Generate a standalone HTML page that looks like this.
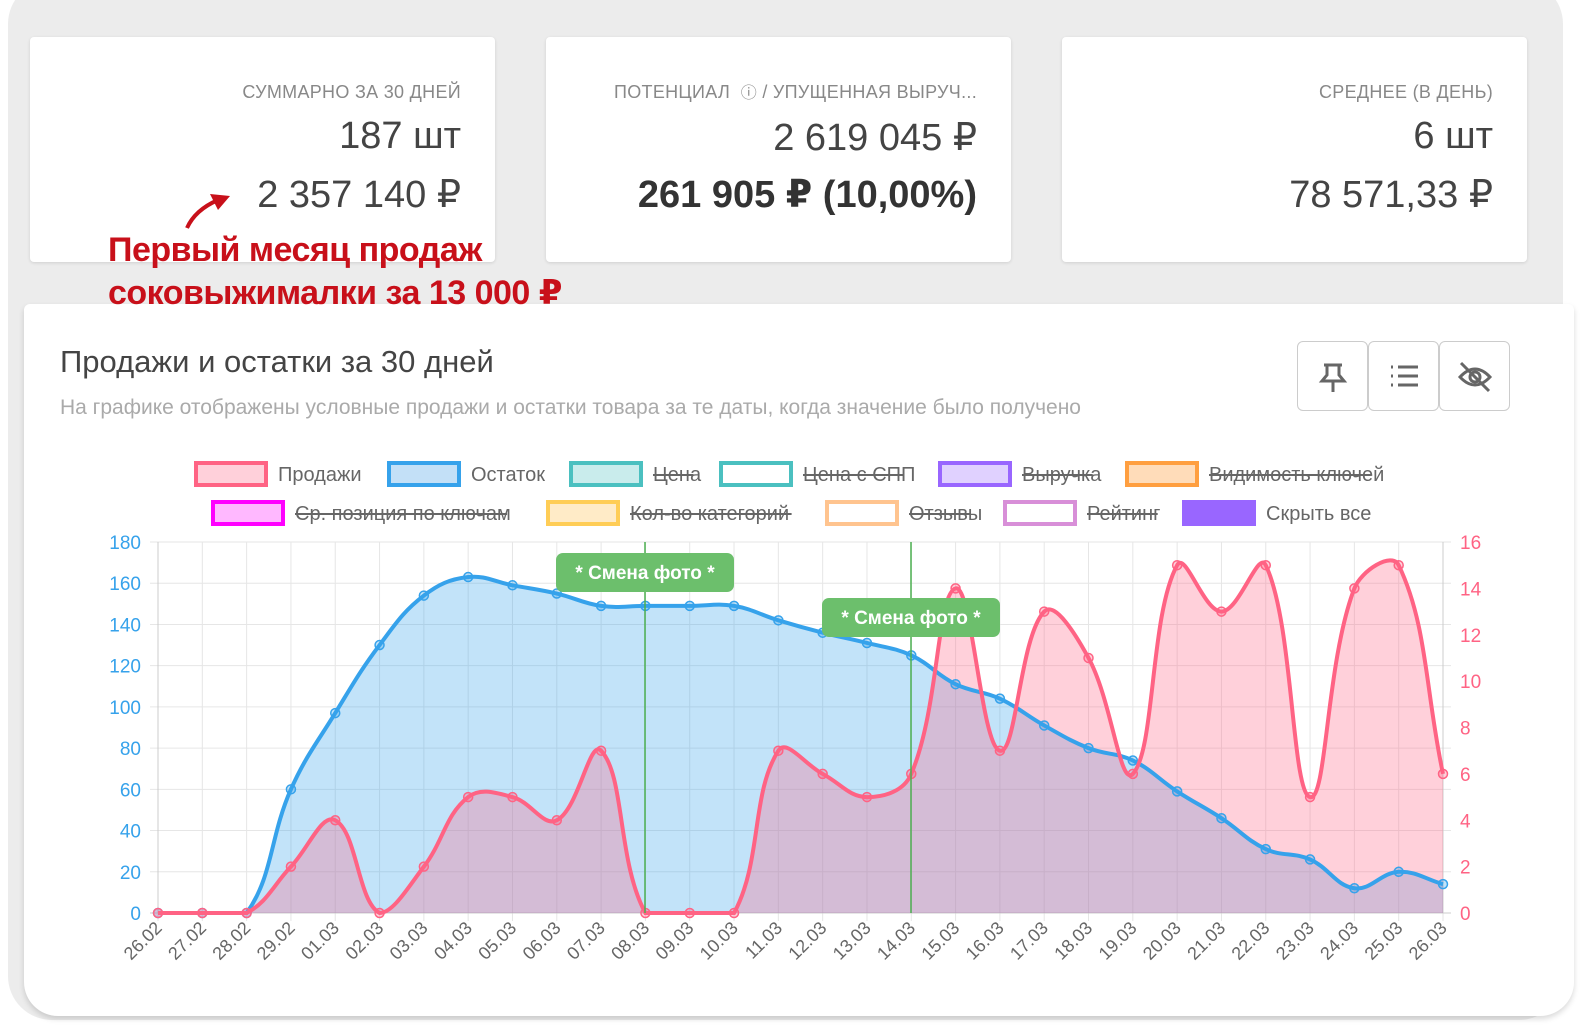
<!DOCTYPE html>
<html><head><meta charset="utf-8">
<style>
*{margin:0;padding:0;box-sizing:border-box}
body{width:1588px;height:1036px;background:#fff;font-family:"Liberation Sans","DejaVu Sans",sans-serif;position:relative;overflow:hidden}
.outer{position:absolute;left:8px;top:-20px;width:1555px;height:1040px;background:#ececec;border-radius:44px}
.card{position:absolute;top:37px;height:225px;width:465px;background:#fff;border-radius:4px;box-shadow:0 1px 3px rgba(0,0,0,.12);text-align:right;color:#444}
.card .t{position:absolute;right:34px;top:45px;font-size:18px;line-height:20px;height:20px;color:#888;letter-spacing:.3px;white-space:nowrap}
.card .a{position:absolute;right:34px;top:78px;font-size:38px;color:#444;white-space:nowrap}
.card .b{position:absolute;right:34px;top:135px;font-size:38px;color:#444;white-space:nowrap}
.panel{position:absolute;left:24px;top:304px;width:1550px;height:712px;background:#fff;border-radius:6px 6px 34px 34px;box-shadow:0 3px 6px rgba(0,0,0,.15)}
.red{position:absolute;left:108px;color:#c8101a;font-weight:bold;font-size:34px;letter-spacing:-.5px;white-space:nowrap}
.btn{position:absolute;top:341px;width:71px;height:70px;border:1px solid #ccc;border-radius:6px;background:#fff}
</style></head><body>
<div class="outer"></div>
<div class="card" style="left:30px"><div class="t">СУММАРНО ЗА 30 ДНЕЙ</div><div class="a">187 шт</div><div class="b">2 357 140 ₽</div></div>
<div class="card" style="left:546px"><div class="t">ПОТЕНЦИАЛ &nbsp;<span style="font-family:'DejaVu Sans';font-size:16px">ⓘ</span> / УПУЩЕННАЯ ВЫРУЧ...</div><div class="a">2 619 045 ₽</div><div class="b" style="font-weight:bold;color:#333">261 905 ₽ (10,00%)</div></div>
<div class="card" style="left:1062px"><div class="t">СРЕДНЕЕ (В ДЕНЬ)</div><div class="a">6 шт</div><div class="b">78 571,33 ₽</div></div>
<div class="panel"></div>
<svg style="position:absolute;left:180px;top:190px" width="60" height="45"><path d="M7 38 Q15 20 38 10" stroke="#c8101a" stroke-width="4" fill="none"/><path d="M30 4 L50 6 L38 20 Z" fill="#c8101a"/></svg>
<div class="red" style="top:231px">Первый месяц продаж</div>
<div class="red" style="top:273px">соковыжималки за 13 000 ₽</div>
<div style="position:absolute;left:60px;top:344px;font-size:31px;color:#444">Продажи и остатки за 30 дней</div>
<div style="position:absolute;left:60px;top:396px;font-size:21px;color:#aaa">На графике отображены условные продажи и остатки товара за те даты, когда значение было получено</div>
<div class="btn" style="left:1297px"><svg width="71" height="70"><g stroke="#666" stroke-width="3" fill="none"><path d="M26 23h18M29 23v10l-5 6h22l-5-6V23M35 39v11"/></g></svg></div>
<div class="btn" style="left:1368px"><svg width="71" height="70"><g stroke="#666" stroke-width="3"><path d="M29 25h20M29 34h20M29 43h20M22 25h2M22 34h2M22 43h2"/></g></svg></div>
<div class="btn" style="left:1439px"><svg width="71" height="70"><g stroke="#666" stroke-width="3" fill="none"><path d="M20 35q15-16 30 0q-15 16-30 0z"/><circle cx="35" cy="35" r="5"/><path d="M21 21l28 28"/></g></svg></div>
<svg id="ch" style="position:absolute;left:0;top:0" width="1588" height="1036"></svg>
<script>
const S=[0,0,0,60,97,130,154,163,159,155,149,149,149,149,142,136,131,125,111,104,91,80,74,59,46,31,26,12,20,14];
const P=[0,0,0,2,4,0,2,5,5,4,7,0,0,0,7,6,5,6,14,7,13,11,6,15,13,15,5,14,15,6];
const L=["26.02","27.02","28.02","29.02"];for(let i=1;i<=26;i++)L.push((i<10?"0":"")+i+".03");
const x0=158,x1=1443,yb=913,yt=542,dx=(x1-x0)/29;
let h='';
for(let v=0;v<=180;v+=20){const y=yb-(v/180)*(yb-yt);h+=`<line x1="150" x2="1451" y1="${y}" y2="${y}" stroke="#e6e6e6"/>`;
h+=`<text x="141" y="${y+7}" text-anchor="end" font-size="19" fill="#36a2eb">${v}</text>`;}
for(let v=0;v<=16;v+=2){const y=yb-(v/16)*(yb-yt);h+=`<text x="1460" y="${y+7}" font-size="19" fill="#ff6384">${v}</text>`;}
for(let i=0;i<30;i++){const x=x0+i*dx;h+=`<line x1="${x}" x2="${x}" y1="${yt}" y2="${yb+8}" stroke="#e6e6e6"/>`;
h+=`<text transform="translate(${x+5},${yb+16}) rotate(-45)" text-anchor="end" font-size="18" fill="#666">${L[i]}</text>`;}
h+=`<line x1="158" x2="158" y1="${yt}" y2="${yb}" stroke="#ccc"/><line x1="1443" x2="1443" y1="${yt}" y2="${yb}" stroke="#ccc"/><line x1="150" x2="1451" y1="${yb}" y2="${yb}" stroke="#ccc"/>`;
function path(pts){const t=0.4;let d=`M${pts[0][0]},${pts[0][1]}`;const cp=pts.map((p,i)=>{const a=pts[i-1]||p,c=pts[i+1]||p;const d01=Math.hypot(p[0]-a[0],p[1]-a[1]),d12=Math.hypot(c[0]-p[0],c[1]-p[1]);let s01=d01/(d01+d12)||0,s12=d12/(d01+d12)||0;const fa=t*s01,fb=t*s12;return[[p[0]-fa*(c[0]-a[0]),Math.min(yb,p[1]-fa*(c[1]-a[1]))],[p[0]+fb*(c[0]-a[0]),Math.min(yb,p[1]+fb*(c[1]-a[1]))]]});
for(let i=1;i<pts.length;i++){d+=` C${cp[i-1][1][0]},${cp[i-1][1][1]} ${cp[i][0][0]},${cp[i][0][1]} ${pts[i][0]},${pts[i][1]}`;}return d;}
const ps=S.map((v,i)=>[x0+i*dx,yb-v/180*(yb-yt)]),pp=P.map((v,i)=>[x0+i*dx,yb-v/16*(yb-yt)]);
const ds=path(ps),dp=path(pp);
h+=`<path d="${ds} L${x1},${yb} L${x0},${yb}Z" fill="rgba(54,162,235,0.3)"/>`;
h+=`<path d="${dp} L${x1},${yb} L${x0},${yb}Z" fill="rgba(255,99,132,0.3)"/>`;
h+=`<path d="${ds}" stroke="#36a2eb" stroke-width="4" fill="none"/>`;
ps.forEach(p=>h+=`<circle cx="${p[0]}" cy="${p[1]}" r="4.5" fill="rgba(54,162,235,0.3)" stroke="#36a2eb" stroke-width="1.5"/>`);
h+=`<path d="${dp}" stroke="#ff6384" stroke-width="4" fill="none"/>`;
pp.forEach(p=>h+=`<circle cx="${p[0]}" cy="${p[1]}" r="4.5" fill="rgba(255,99,132,0.3)" stroke="#ff6384" stroke-width="1.5"/>`);
[[645,553],[911,598]].forEach(([x,y])=>{h+=`<line x1="${x}" x2="${x}" y1="${yt}" y2="${yb}" stroke="#4caf50" stroke-width="1.5"/>`;
h+=`<rect x="${x-89}" y="${y}" width="178" height="39" rx="7" fill="#6cbf6c"/><text x="${x}" y="${y+26}" text-anchor="middle" font-size="19" font-weight="bold" fill="#fff">* Смена фото *</text>`;});
const lg=[[194,474,"Продажи","#ff6384","#ffd0da",0],[387,474,"Остаток","#36a2eb","#c3e0f7",0],[569,474,"Цена","#4bc0c0","#c9ecec",1],[719,474,"Цена с СПП","#4bc0c0","#fff",1],[938,474,"Выручка","#9966ff","#e0d1ff",1],[1125,474,"Видимость ключей","#ff9f40","#ffdcb9",1],
[211,513,"Ср. позиция по ключам","#ff00ff","#ffb8ff",1],[546,513,"Кол-во категорий","#ffcd56","#ffebc7",1],[825,513,"Отзывы","#ffc48f","#fff",1],[1003,513,"Рейтинг","#d88fd8","#fff",1],[1182,513,"Скрыть все","#9966ff","#9966ff",0]];
lg.forEach(([x,y,t,c,f,s])=>{h+=`<rect x="${x+2}" y="${y-11}" width="70" height="22" fill="${f}" stroke="${c}" stroke-width="4"/>`;
h+=`<text x="${x+84}" y="${y+7}" font-size="20" fill="#666">${t}</text>`;
if(s){const w=t.length*10.1;h+=`<line x1="${x+84}" x2="${x+84+w}" y1="${y+1}" y2="${y+1}" stroke="#666" stroke-width="2"/>`;}});
document.getElementById('ch').innerHTML=h;
</script>
</body></html>
